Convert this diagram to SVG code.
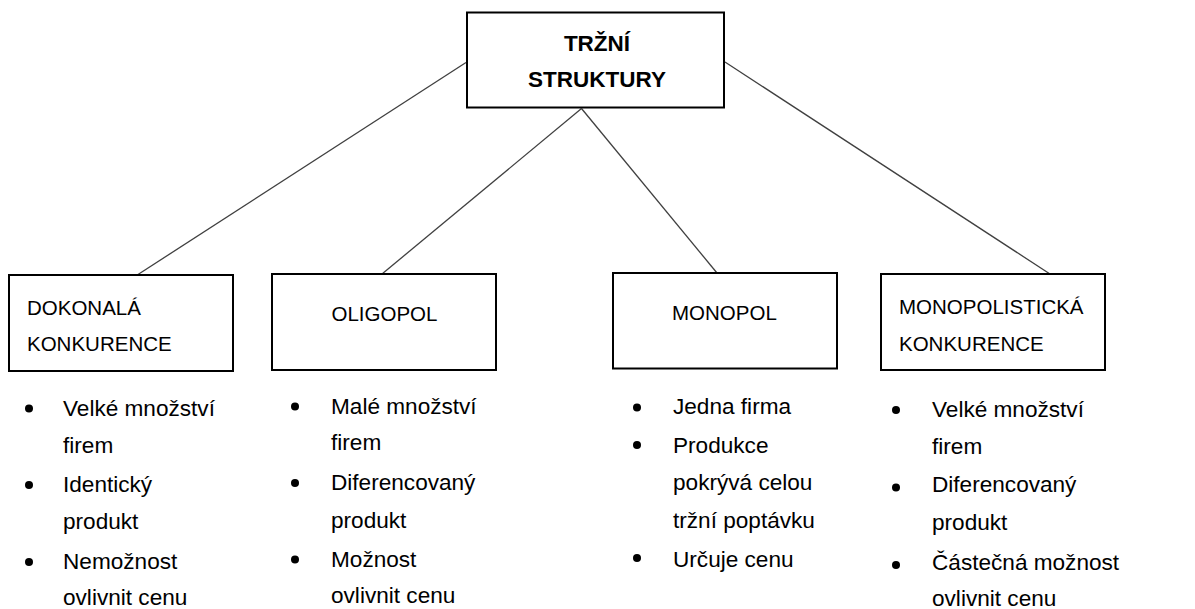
<svg xmlns="http://www.w3.org/2000/svg" width="1195" height="609" viewBox="0 0 1195 609">
<style>
.box{fill:#fff;stroke:#000;stroke-width:2}
.edge{stroke:#404040;stroke-width:1.3;fill:none}
.title{font-family:"Liberation Sans",Arial,sans-serif;font-weight:bold;font-size:22.5px;fill:#000;text-anchor:middle}
.lbl{font-family:"Liberation Sans",Arial,sans-serif;font-size:20.5px;fill:#000}
.item{font-family:"Liberation Sans",Arial,sans-serif;font-size:22.6px;fill:#000}
.dot{fill:#000}
</style>
<rect width="1195" height="609" fill="#fff"/>
<g id="connectors">
<line class="edge" x1="466" y1="62.5" x2="138" y2="274.5"/>
<line class="edge" x1="581.5" y1="108.5" x2="382" y2="274"/>
<line class="edge" x1="581.5" y1="108.5" x2="717" y2="273"/>
<line class="edge" x1="725" y1="62" x2="1050" y2="274"/>
</g>
<g id="root">
<rect class="box" x="467" y="12.5" width="257" height="95"/>
<text class="title" x="597" y="51">TRŽNÍ</text>
<text class="title" x="597" y="87">STRUKTURY</text>
</g>
<g id="dokonala">
<rect class="box" x="9" y="275" width="224" height="96"/>
<text class="lbl" x="27" y="315">DOKONALÁ</text>
<text class="lbl" x="27" y="351">KONKURENCE</text>
<circle class="dot" cx="29" cy="408.5" r="4"/>
<circle class="dot" cx="29" cy="485" r="4"/>
<circle class="dot" cx="29" cy="562" r="4"/>
<text class="item" x="63" y="415.5">Velké množství</text>
<text class="item" x="63" y="453">firem</text>
<text class="item" x="63" y="491.5">Identický</text>
<text class="item" x="63" y="529">produkt</text>
<text class="item" x="63" y="568.5">Nemožnost</text>
<text class="item" x="63" y="604.5">ovlivnit cenu</text>
</g>
<g id="oligopol">
<rect class="box" x="272" y="274" width="224" height="96"/>
<text class="lbl" x="331.5" y="320.5">OLIGOPOL</text>
<circle class="dot" cx="295" cy="406.5" r="4"/>
<circle class="dot" cx="295" cy="483" r="4"/>
<circle class="dot" cx="295" cy="559.5" r="4"/>
<text class="item" x="331" y="413.5">Malé množství</text>
<text class="item" x="331" y="450">firem</text>
<text class="item" x="331" y="490">Diferencovaný</text>
<text class="item" x="331" y="527.5">produkt</text>
<text class="item" x="331" y="566.5">Možnost</text>
<text class="item" x="331" y="603">ovlivnit cenu</text>
</g>
<g id="monopol">
<rect class="box" x="613" y="273" width="224" height="95.5"/>
<text class="lbl" x="672" y="320">MONOPOL</text>
<circle class="dot" cx="637" cy="407.5" r="4"/>
<circle class="dot" cx="637" cy="445" r="4"/>
<circle class="dot" cx="637" cy="558" r="4"/>
<text class="item" x="673" y="414">Jedna firma</text>
<text class="item" x="673" y="452.5">Produkce</text>
<text class="item" x="673" y="490">pokrývá celou</text>
<text class="item" x="673" y="528">tržní poptávku</text>
<text class="item" x="673" y="566.5">Určuje cenu</text>
</g>
<g id="monopolisticka">
<rect class="box" x="881" y="274" width="224" height="96"/>
<text class="lbl" x="899" y="314">MONOPOLISTICKÁ</text>
<text class="lbl" x="899" y="350.5">KONKURENCE</text>
<circle class="dot" cx="896" cy="410" r="4"/>
<circle class="dot" cx="896" cy="487.5" r="4"/>
<circle class="dot" cx="896" cy="565" r="4"/>
<text class="item" x="932" y="416.5">Velké množství</text>
<text class="item" x="932" y="453.5">firem</text>
<text class="item" x="932" y="492">Diferencovaný</text>
<text class="item" x="932" y="530">produkt</text>
<text class="item" x="932" y="570">Částečná možnost</text>
<text class="item" x="932" y="605.5">ovlivnit cenu</text>
</g>
</svg>
